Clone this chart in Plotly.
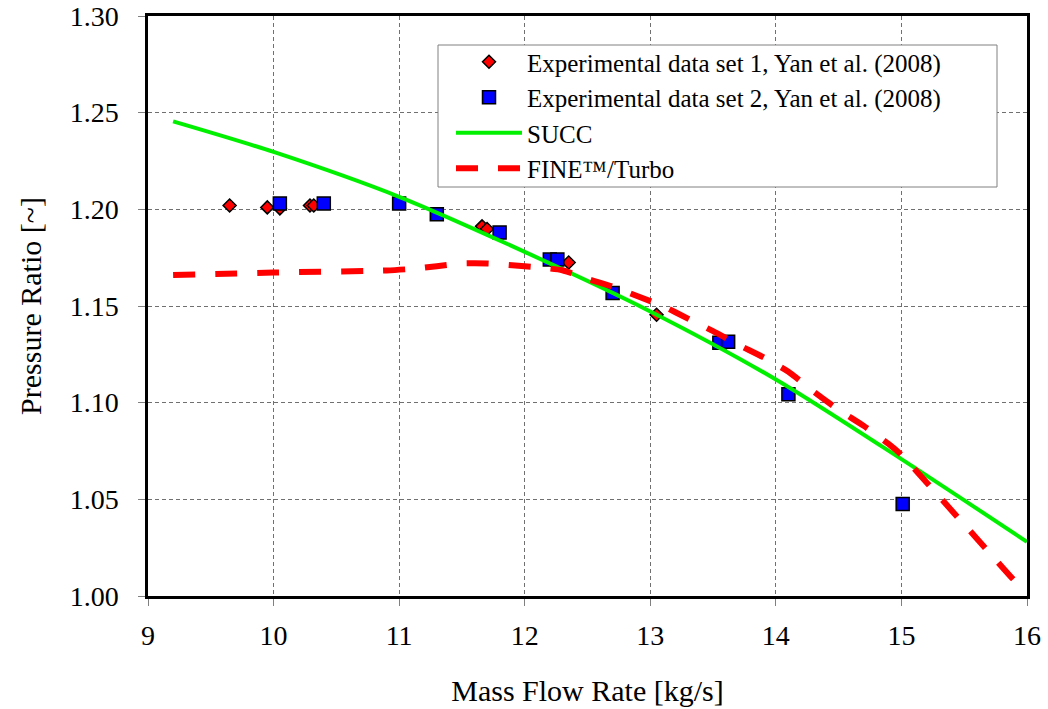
import plotly.graph_objects as go

# Experimental data set 1 (diamonds)
set1_flow = [9.65, 9.95, 10.05, 10.29, 10.32, 11.66, 11.70, 12.35, 13.05]
set1_pr = [1.2020, 1.2010, 1.2005, 1.2020, 1.2020, 1.1912, 1.1898, 1.1725, 1.1455]

# Experimental data set 2 (squares)
set2_flow = [10.05, 10.40, 11.00, 11.30, 11.80, 12.20, 12.26, 12.70, 13.55, 13.62, 14.10, 15.01]
set2_pr = [1.2030, 1.2030, 1.2030, 1.1974, 1.1880, 1.1740, 1.1740, 1.1567, 1.1310, 1.1315, 1.1043, 1.0476]

# SUCC prediction
succ_flow = [9.2, 10.0, 11.0, 12.0, 13.0, 14.0, 15.0, 16.0]
succ_pr = [1.2455, 1.2297, 1.2065, 1.1780, 1.1472, 1.1120, 1.0708, 1.0280]

# FINE/Turbo prediction
fine_flow = [9.2, 10.0, 10.9, 11.1, 11.3, 11.5, 11.7, 11.9, 12.1, 12.3, 12.5, 12.7, 12.9,
             13.1, 13.3, 13.5, 13.7, 13.9, 14.1, 14.3, 14.5, 14.7, 14.9, 15.0, 15.1,
             15.3, 15.5, 15.7, 15.9, 16.0]
fine_pr = [1.1660, 1.1673, 1.1684, 1.1692, 1.1706, 1.1720, 1.1720, 1.1711, 1.1700, 1.1685,
           1.1640, 1.1600, 1.1550, 1.1500, 1.1435, 1.1370, 1.1300, 1.1235, 1.1160, 1.1058,
           1.0963, 1.0880, 1.0785, 1.0730, 1.0660, 1.0515, 1.0370, 1.0225, 1.0080, 1.0020]

FONT = "Liberation Serif, Times New Roman, serif"

fig = go.Figure()

fig.add_trace(go.Scatter(
    x=set1_flow, y=set1_pr, mode="markers",
    name="Experimental data set 1, Yan et al. (2008)",
    marker=dict(symbol="diamond", size=10, color="#ff0000",
                line=dict(color="black", width=1.5)),
))
fig.add_trace(go.Scatter(
    x=set2_flow, y=set2_pr, mode="markers",
    name="Experimental data set 2, Yan et al. (2008)",
    marker=dict(symbol="square", size=13, color="#0000ff",
                line=dict(color="black", width=1.5)),
))
fig.add_trace(go.Scatter(
    x=succ_flow, y=succ_pr, mode="lines", name="SUCC",
    line=dict(color="#00f000", width=4, shape="spline", smoothing=0.8),
))
fig.add_trace(go.Scatter(
    x=fine_flow, y=fine_pr, mode="lines", name="FINE\u2122/Turbo",
    line=dict(color="#ff0000", width=6, dash="22px,20px", shape="spline", smoothing=0.6),
))

# plot area spans pixels 148..1027 horizontally, 16..596 vertically
L, R, T, B = 148, 1027, 16, 596
W, H = R - L, B - T


def px(x):
    return (x - L) / W


def py(y):
    return (B - y) / H


fig.add_shape(type="rect", xref="paper", yref="paper",
              x0=px(438), x1=px(997), y0=py(187), y1=py(45),
              line=dict(color="#808080", width=1), fillcolor="white", layer="above")

axis_common = dict(
    showline=True, linecolor="black", linewidth=2.5, mirror=True,
    ticks="outside", ticklen=7, tickcolor="#808080", tickwidth=1,
    showgrid=True, gridcolor="#707070", gridwidth=1, griddash="4px,3px",
    zeroline=False, automargin=False,
    tickfont=dict(family=FONT, size=28, color="black"),
)

fig.update_layout(
    width=1048, height=709,
    margin=dict(l=L, r=1048 - R, t=T, b=709 - B),
    paper_bgcolor="white", plot_bgcolor="white",
    font=dict(family=FONT, color="black"),
    showlegend=True,
    legend=dict(
        x=px(451), y=py(39), xanchor="left", yanchor="top",
        bgcolor="rgba(0,0,0,0)", borderwidth=0,
        font=dict(family=FONT, size=25, color="black"),
        itemwidth=66, tracegroupgap=0,
    ),
    xaxis=dict(range=[9, 16], dtick=1, tick0=9, ticklabelstandoff=6,
               title=dict(text="Mass Flow Rate [kg/s]", font=dict(family=FONT, size=30), standoff=30),
               **axis_common),
    yaxis=dict(range=[1.0, 1.3], dtick=0.05, tick0=1.0, tickformat=".2f", ticklabelstandoff=14,
               title=dict(text="Pressure Ratio [~]", font=dict(family=FONT, size=30), standoff=20),
               **axis_common),
)

fig.write_html("out.html")
